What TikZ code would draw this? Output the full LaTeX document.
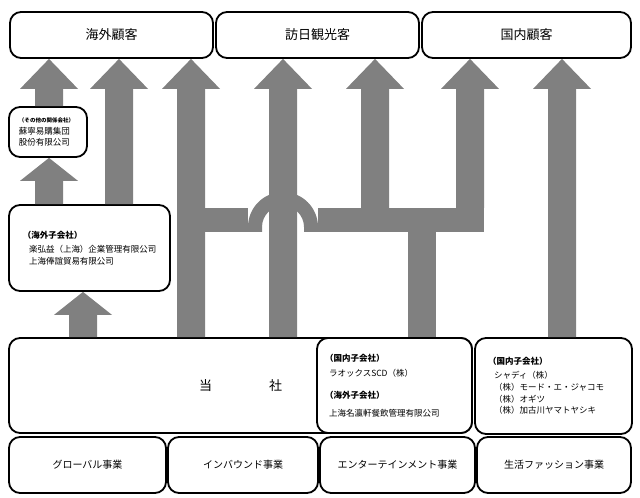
\documentclass[tikz,border=0pt]{standalone}
\usepackage{fontspec}
\setmainfont{Noto Sans CJK JP}
\usetikzlibrary{calc}

\definecolor{arrgray}{HTML}{808080}
\newcommand\subhead[1]{{\bfseries #1}}
% gray block arrow: [head length]{column}{tail}{head}
\newcommand\blockarr[4][30]{%
  \fill[arrgray] ($(#2 |- #3)+(-14,0)$) -- ($(#2 |- #4)+(-14,-#1)$) -- ++(-15,0)
    -- (#2 |- #4) -- ++(29,-#1) -- ++(-15,0) -- ($(#2 |- #3)+(14,0)$) -- cycle;}

\begin{document}
\begin{tikzpicture}[x=1pt,y=1pt,
  box/.style={draw,line width=1.8pt,rounded corners=11pt,fill=white},
  cust/.style={box,minimum width=203,minimum height=46,font=\fontsize{13}{13}\selectfont},
  biz/.style={box,minimum height=56,font=\fontsize{10}{10}\selectfont},
  sub/.style={box,align=left,inner ysep=0pt,font=\fontsize{8.5}{11.8}\selectfont}]
\useasboundingbox (0,0) rectangle (640,498);

\node[cust] (ov) at (111.5,463) {海外顧客};
\node[cust] (inb) at (317.5,463) {訪日観光客};
\node[cust,minimum width=209] (dom) at (526.5,463) {国内顧客};

\node[sub,minimum height=50,inner xsep=10,text width=58] (other) at (48,366)
  {{\fontsize{5.5}{8}\selectfont\bfseries （その他の関係会社）}\\ 蘇寧易購集団\\ 股份有限公司};
\node[sub,minimum height=86,inner xsep=14,text width=133] (ovsub) at (89.5,250)
  {\subhead{（海外子会社）}\\[2pt]
   \hspace*{6pt}楽弘益（上海）企業管理有限公司\\ \hspace*{6pt}上海俸誼貿易有限公司};

\node[box,minimum width=463,minimum height=95,font=\fontsize{13}{13}\selectfont] (company) at (240.5,112.5) {当\hspace{57pt}社};
\node[sub,minimum height=95,inner xsep=8,text width=139] (midsub) at (394.5,112.5)
  {\subhead{（国内子会社）}\\[3pt] \hspace*{4pt}ラオックスSCD（株）\\[10pt]
   \subhead{（海外子会社）}\\[6pt] \hspace*{4pt}上海名瀛軒餐飲管理有限公司};
\node[sub,minimum height=96,inner xsep=13,text width=131] (domsub) at (553.5,112)
  {\subhead{（国内子会社）}\\[2pt] \hspace*{6pt}シャディ（株）\\ \hspace*{6pt}（株）モード・エ・ジャコモ\\
   \hspace*{6pt}（株）オギツ\\ \hspace*{6pt}（株）加古川ヤマトヤシキ};

\node[biz,minimum width=157] (glob) at (87.5,33) {グローバル事業};
\node[biz,minimum width=150] (inbbiz) at (243,33) {インバウンド事業};
\node[biz,minimum width=155] (ent) at (397.5,33) {エンターテインメント事業};
\node[biz,minimum width=154] (life) at (554,33) {生活ファッション事業};

% arrow columns
\coordinate (colA) at (49,0);
\coordinate (colB) at (119,0);
\coordinate (colC) at (191,0);
\coordinate (colD) at (283,0);
\coordinate (colE) at (375,0);
\coordinate (colF) at (470,0);
\coordinate (colG) at (562,0);
\coordinate (colH) at (83,0);
\coordinate (colS) at (422,0);
\coordinate (bartop) at (0,290);
\coordinate (barbot) at (0,266);

\blockarr{colA}{other.north}{ov.south}
\blockarr[23]{colA}{ovsub.north}{other.south}
\blockarr{colB}{ovsub.north}{ov.south}
\blockarr[23]{colH}{company.north}{ovsub.south}

% branch bar with bridge
\fill[arrgray] ($(colS |- midsub.north)+(-14,0)$) rectangle ($(colS |- bartop)+(14,0)$);
\fill[arrgray] (colC |- barbot) rectangle ($(colD |- bartop)+(-35,0)$);
\fill[arrgray] ($(colD |- barbot)+(35,0)$) rectangle ($(colF |- bartop)+(14,0)$);
\fill[arrgray] ($(colD |- barbot)+(-35,0)$) -- ++(0,5) arc[start angle=180,end angle=0,radius=35]
  -- ++(0,-5) -- ++(-14,0) -- ++(0,5) arc[start angle=0,end angle=180,radius=21] -- ++(0,-5) -- cycle;

\blockarr{colC}{company.north}{ov.south}
\blockarr{colD}{company.north}{inb.south}
\blockarr{colE}{bartop}{inb.south}
\blockarr{colF}{bartop}{dom.south}
\blockarr{colG}{domsub.north}{dom.south}
\end{tikzpicture}
\end{document}
